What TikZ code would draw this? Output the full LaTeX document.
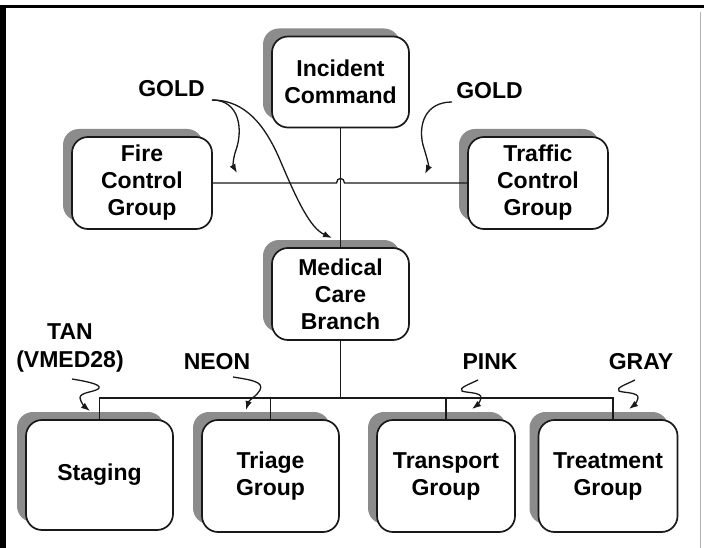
\documentclass[tikz,border=0pt]{standalone}
\usepackage{fontspec}
\setmainfont{Liberation Sans}
\usetikzlibrary{shadows,calc,arrows.meta}
\begin{document}
\begin{tikzpicture}[x=1pt,y=-1pt,
  box/.style={draw=black!90, line width=1.7pt, fill=white, rounded corners=16pt,
    align=center, inner sep=0pt, font=\fontsize{23}{27}\selectfont\bfseries,
    general shadow={fill=black!45, shadow xshift=-9pt, shadow yshift=8pt}},
  lbl/.style={inner sep=0pt, align=center, font=\fontsize{23}{28}\selectfont\bfseries},
  conn/.style={draw=black!90, line width=1.3pt},
  arr/.style={conn, -{Latex[length=9pt,width=6.5pt]}}]
\useasboundingbox (0,0) rectangle (704,548);
\fill[white] (0,0) rectangle (704,548);
% frame
\fill[black] (0,5.5) rectangle (704,8.5);
\fill[black] (0,5.5) rectangle (6,548);
\draw[black!30, line width=1pt] (700,12) -- (700,548);
% boxes
\node[box, minimum width=137pt, minimum height=91pt] (ic) at (340.5,82) {Incident\\Command};
\node[box, minimum width=140pt, minimum height=92pt] (fire) at (142,183) {Fire\\Control\\Group};
\node[box, minimum width=140pt, minimum height=92pt] (traffic) at (538,183) {Traffic\\Control\\Group};
\node[box, minimum width=137pt, minimum height=92pt] (med) at (340.5,294) {Medical\\Care\\Branch};
\node[box, minimum width=147pt, minimum height=110pt] (staging) at (99.5,475) {\raisebox{-7pt}{Staging}};
\node[box, minimum width=137pt, minimum height=112pt] (triage) at (270.5,476) {Triage\\Group};
\node[box, minimum width=138pt, minimum height=112pt] (transport) at (446,476) {Transport\\Group};
\node[box, minimum width=139pt, minimum height=112pt] (treat) at (608,476) {Treatment\\Group};
% labels
\node[lbl] (gold1) at (171.5,89) {GOLD};
\node[lbl] (gold2) at (489.5,91) {GOLD};
\node[lbl] (tan) at (70,348) {TAN\\(VMED28)};
\node[lbl] (neon) at (217,362) {NEON};
\node[lbl] (pink) at (490,362) {PINK};
\node[lbl] (gray) at (641,362) {GRAY};
% tree connectors
\coordinate (hopL) at ($(ic.south|-fire.east)+(-4,0)$);
\coordinate (hopR) at ($(ic.south|-fire.east)+(4,0)$);
\draw[conn] (fire.east) -- (hopL) .. controls ($(hopL)+(0,-6)$) and ($(hopR)+(0,-6)$) .. (hopR) -- (traffic.west);
\draw[conn] (ic.south) -- (med.north);
\coordinate (bus) at ($(med.south)+(0,57)$);
\coordinate (tdrop) at ($(treat.north)+(5,0)$);
\draw[conn] (med.south) -- (bus);
\draw[conn] (staging.north) |- (bus) -| (tdrop);
\draw[conn] (triage.north) -- (triage.north |- bus);
\draw[conn] (transport.north) -- (transport.north |- bus);
% radio arrows
\coordinate (g1) at (212,100);
\coordinate (g2) at (452,102);
\draw[arr] (g1) .. controls (240,100) and (243,130) .. (236,150) .. controls (233,158) and (233,166) .. (237,173);
\draw[arr] (g1) .. controls (245,100) and (265,125) .. (280,160) .. controls (297,200) and (310,228) .. (332,238);
\draw[arr] (g2) .. controls (425,102) and (418,125) .. (423,145) .. controls (427,158) and (429,166) .. (425,174);
\coordinate (s1) at (72,379);
\coordinate (s2) at (233,377);
\coordinate (s3) at (478,380);
\coordinate (s4) at (635,380);
\draw[arr] (s1) .. controls (84,381) and (101,384) .. (99,388) .. controls (97,392) and (79,392) .. (80,398) .. controls (81,403) and (85,407) .. (90,411);
\draw[arr] (s2) .. controls (252,380) and (264,382) .. (260,390) .. controls (257,396) and (249,400) .. (246,410);
\draw[arr] (s3) .. controls (470,384) and (458,388) .. (462,391) .. controls (466,393) and (482,392) .. (481,398) .. controls (480,403) and (476,406) .. (472,409);
\draw[arr] (s4) .. controls (627,384) and (615,388) .. (619,391) .. controls (623,393) and (639,392) .. (638,398) .. controls (637,403) and (633,406) .. (629,409);
\end{tikzpicture}
\end{document}
